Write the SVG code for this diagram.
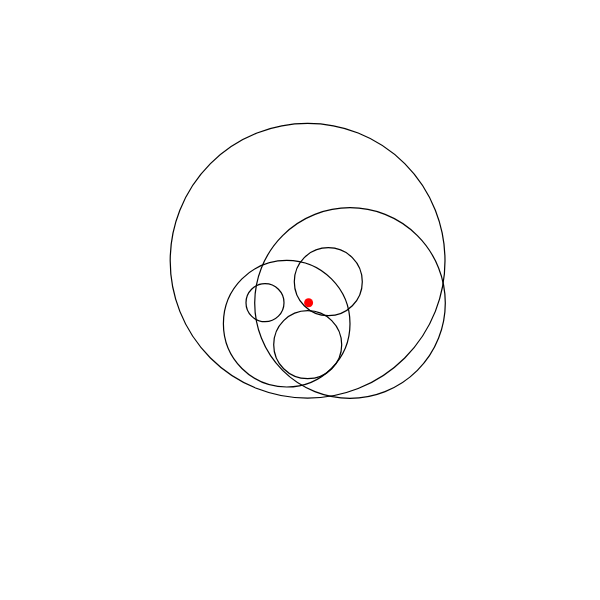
<svg xmlns="http://www.w3.org/2000/svg" width="600" height="600" viewBox="0 0 600 600">
<style>.c{fill:none;stroke:#000;stroke-width:1.2}</style>
<rect width="600" height="600" fill="#fff"/>
<g id="c1"><circle class="c" cx="307.6" cy="260.8" r="137.4"/></g>
<g id="c2"><circle class="c" cx="350" cy="303" r="95.3"/></g>
<g id="c3"><circle class="c" cx="286.7" cy="323.7" r="63.3"/></g>
<g id="c4"><circle class="c" cx="265" cy="302.7" r="19"/></g>
<g id="c5"><circle class="c" cx="328.3" cy="281.7" r="34"/></g>
<g id="c6"><circle class="c" cx="307.7" cy="344.7" r="34"/></g>
<g id="dot"><circle cx="308.6" cy="302.7" r="4.5" fill="#ff0000"/></g>
</svg>
